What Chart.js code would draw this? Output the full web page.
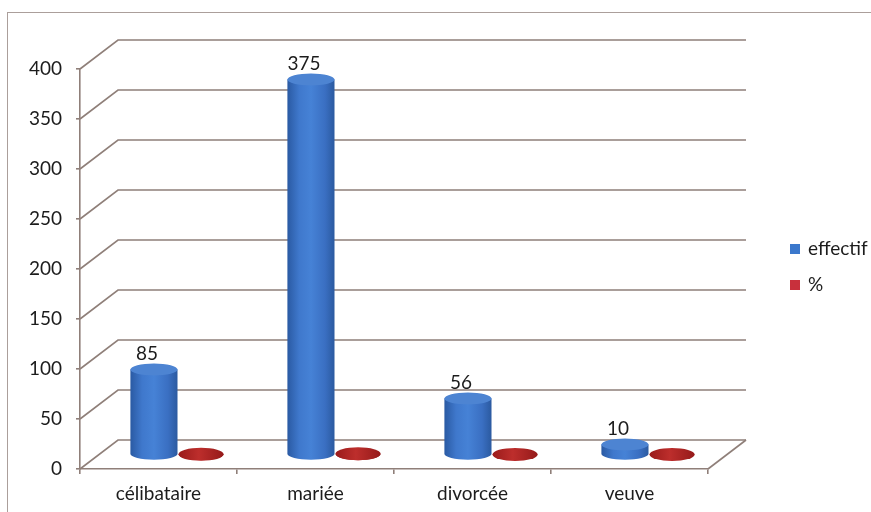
<!DOCTYPE html>
<html>
<head>
<meta charset="utf-8">
<script src="https://cdn.jsdelivr.net/npm/chart.js@4.4.0/dist/chart.umd.min.js"></script>
<style>
  html, body { margin: 0; padding: 0; background: #fff; }
  canvas { display: block; }
</style>
</head>
<body>
<canvas id="chart" width="871" height="512"></canvas>
<script>
// Situation familiale - effectif et %
const categories = ['célibataire', 'mariée', 'divorcée', 'veuve'];
const effectif = [85, 375, 56, 10];
const pourcentage = [0.16, 0.71, 0.11, 0.02];
const seriesNames = ['effectif', '%'];
const yTicks = [0, 50, 100, 150, 200, 250, 300, 350, 400];

// 3D look: depth of the walls (full) - columns sit at half depth
const depth = { x: 38, y: -29 };
const gridColor = '#8f7f79';
const textColor = '#1c1c1c';
const fontFamily = 'Lato, "Open Sans", sans-serif';

const blueBody = [[0, '#2a5aa3'], [0.25, '#3f78cc'], [0.5, '#4682d6'], [0.8, '#3a6fc2'], [1, '#2b5aa0']];
const blueTop = '#4d84d2';
const redBody = [[0, '#931818'], [0.45, '#b8282a'], [1, '#8e1717']];
const redTop = [[0, '#9a1b1b'], [0.45, '#bd2e2c'], [1, '#951a1a']];
const legendColors = ['#3b78cc', '#c8303c'];

function drawCylinder(ctx, cx, top, bottom, w, ry, body, cap) {
    const x0 = cx - w / 2, x1 = cx + w / 2;
    const g = ctx.createLinearGradient(x0, 0, x1, 0);
    body.forEach(([s, c]) => g.addColorStop(s, c));
    ctx.fillStyle = g;
    ctx.beginPath();
    ctx.moveTo(x0, top);
    ctx.lineTo(x0, bottom);
    ctx.ellipse(cx, bottom, w / 2, ry, 0, Math.PI, 0, true);
    ctx.lineTo(x1, top);
    ctx.closePath();
    ctx.fill();

    if (Array.isArray(cap)) {
        const gc = ctx.createLinearGradient(x0, 0, x1, 0);
        cap.forEach(([s, c]) => gc.addColorStop(s, c));
        ctx.fillStyle = gc;
    } else {
        ctx.fillStyle = cap;
    }
    ctx.beginPath();
    ctx.ellipse(cx, top, w / 2, ry, 0, 0, Math.PI * 2);
    ctx.fill();
}

// frame, back walls and floor
const wallPlugin = {
    id: 'wall3d',
    beforeDraw(chart) {
        const ctx = chart.ctx;
        ctx.save();
        ctx.fillStyle = '#fff';
        ctx.fillRect(0, 0, chart.width, chart.height);
        ctx.strokeStyle = '#ab9f9b';
        ctx.lineWidth = 1;
        ctx.strokeRect(7.5, 12.5, chart.width, chart.height);
        ctx.restore();
    },
    beforeDatasetsDraw(chart) {
        const { ctx, chartArea: a, scales: { y } } = chart;
        ctx.save();
        ctx.strokeStyle = gridColor;
        ctx.lineWidth = 1.6;
        y.ticks.forEach(t => {
            const py = y.getPixelForValue(t.value);
            ctx.beginPath();
            ctx.moveTo(a.left, py);
            ctx.lineTo(a.left + depth.x, py + depth.y);
            ctx.lineTo(a.right + depth.x, py + depth.y);
            ctx.stroke();
        });
        const base = y.getPixelForValue(0);
        ctx.beginPath();
        ctx.moveTo(a.right, base);
        ctx.lineTo(a.right + depth.x, base + depth.y);
        ctx.stroke();
        ctx.restore();
    }
};

// columns drawn as cylinders from the bar elements, plus values and legend
const cylinderPlugin = {
    id: 'cylinders',
    afterDatasetsDraw(chart) {
        const { ctx, chartArea: a } = chart;
        const dx = depth.x / 2, dy = depth.y / 2;
        ctx.save();
        // red discs first, blue columns in front
        chart.getDatasetMeta(1).data.forEach(bar => {
            drawCylinder(ctx, bar.x + dx, bar.y + dy, bar.base + dy, bar.width - 2, 6.5, redBody, redTop);
        });
        chart.getDatasetMeta(0).data.forEach((bar, i) => {
            drawCylinder(ctx, bar.x + dx, bar.y + dy, bar.base + dy, bar.width, 6, blueBody, blueTop);
            ctx.fillStyle = textColor;
            ctx.font = '19px ' + fontFamily;
            ctx.textAlign = 'center';
            ctx.textBaseline = 'middle';
            ctx.fillText(String(effectif[i]), bar.x + 12, bar.y + dy - 16);
        });

        // legend
        const lx = a.right + 82;
        const rows = [249, 285];
        ctx.font = '19px ' + fontFamily;
        ctx.textAlign = 'left';
        ctx.textBaseline = 'middle';
        seriesNames.forEach((name, i) => {
            ctx.fillStyle = legendColors[i];
            ctx.fillRect(lx, rows[i] - 5, 10, 10);
            ctx.fillStyle = textColor;
            ctx.fillText(name, lx + 18, rows[i]);
        });
        ctx.restore();
    }
};

new Chart(document.getElementById('chart'), {
    type: 'bar',
    data: {
        labels: categories,
        datasets: [
            {
                label: seriesNames[0],
                data: effectif,
                backgroundColor: 'rgba(0,0,0,0)',
                borderWidth: 0
            },
            {
                label: seriesNames[1],
                data: pourcentage,
                backgroundColor: 'rgba(0,0,0,0)',
                borderWidth: 0
            }
        ]
    },
    options: {
        responsive: false,
        animation: false,
        events: [],
        categoryPercentage: 0.6,
        barPercentage: 1,
        layout: {
            padding: { left: 0, top: 69, right: 163, bottom: 0 }
        },
        plugins: {
            legend: { display: false },
            tooltip: { enabled: false }
        },
        scales: {
            x: {
                grid: {
                    display: true,
                    drawOnChartArea: false,
                    tickLength: 5,
                    color: gridColor,
                    lineWidth: 1.6
                },
                border: { display: true, color: gridColor, width: 1.6 },
                ticks: {
                    color: textColor,
                    font: { family: fontFamily, size: 19 },
                    padding: 8,
                    maxRotation: 0
                },
                afterFit(scale) { scale.height = 43; }
            },
            y: {
                min: 0,
                max: 400,
                afterBuildTicks(scale) { scale.ticks = yTicks.map(v => ({ value: v })); },
                grid: {
                    display: true,
                    drawOnChartArea: false,
                    tickLength: 4,
                    color: gridColor,
                    lineWidth: 1.6
                },
                border: { display: true, color: gridColor, width: 1.6 },
                ticks: {
                    color: textColor,
                    font: { family: fontFamily, size: 19 },
                    padding: 14
                },
                afterFit(scale) { scale.width = 80; }
            }
        }
    },
    plugins: [wallPlugin, cylinderPlugin]
});
</script>
</body>
</html>
